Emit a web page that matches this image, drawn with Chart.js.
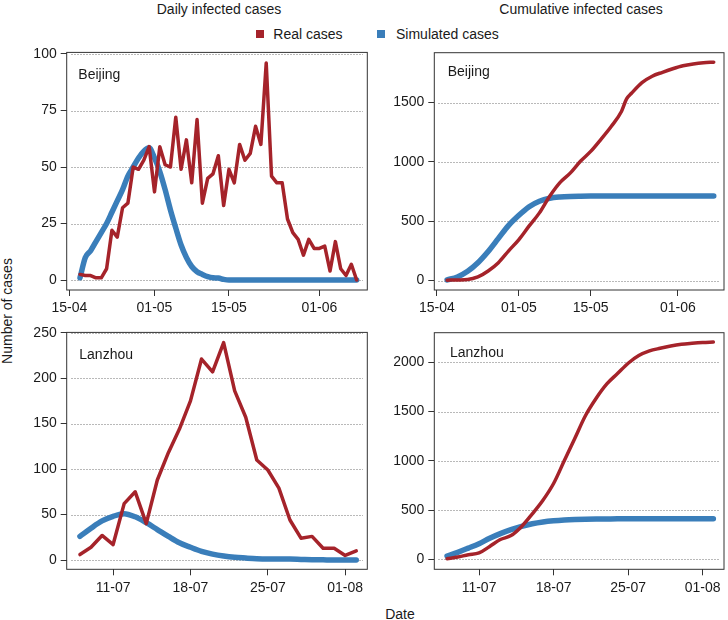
<!DOCTYPE html>
<html>
<head>
<meta charset="utf-8">
<script src="https://cdn.jsdelivr.net/npm/chart.js@4.4.1/dist/chart.umd.min.js"></script>
<style>
  body { margin: 0; background: #fff; }
  #wrap { position: relative; width: 728px; height: 620px; overflow: hidden;
          font-family: "Liberation Sans", Arial, sans-serif; font-size: 14px; color: #1a1a1a; }
  canvas { position: absolute; }
  .txt { position: absolute; line-height: 16px; white-space: nowrap; }
  .key { position: absolute; width: 8px; height: 8px; }
</style>
</head>
<body>
<div id="wrap">
  <div class="txt" style="left:219px; top:0.7px; transform:translateX(-50%)">Daily infected cases</div>
  <div class="txt" style="left:581px; top:0.7px; transform:translateX(-50%)">Cumulative infected cases</div>

  <div class="key" style="left:255.5px; top:29.5px; background:#A5232A"></div>
  <div class="txt" style="left:273.3px; top:25.5px">Real cases</div>
  <div class="key" style="left:376.5px; top:29.5px; background:#3A7EBA"></div>
  <div class="txt" style="left:396px; top:25.5px">Simulated cases</div>

  <div class="txt" style="left:7px; top:311px; transform:translate(-50%,-50%) rotate(-90deg)">Number of cases</div>
  <div class="txt" style="left:400px; top:605.5px; transform:translateX(-50%)">Date</div>

  <canvas id="bjDaily" width="372" height="282" style="left:0; top:40px; width:372px; height:282px"></canvas>
  <canvas id="lzDaily" width="372" height="280" style="left:0; top:320px; width:372px; height:280px"></canvas>
  <canvas id="bjCum" width="356" height="282" style="left:372px; top:40px; width:356px; height:282px"></canvas>
  <canvas id="lzCum" width="356" height="280" style="left:372px; top:320px; width:356px; height:280px"></canvas>
</div>

<script>
// ---- data ----

// Beijing, daily from 17-04 to 08-06
const bjDailyStart = '17-04';
const bjDailyReal = [2.5, 2, 2, 1, 1, 5, 22, 19, 32, 34,
                     50, 49, 53, 59, 39, 59, 51, 50, 72, 49,
                     62, 43, 71, 34, 45, 47, 55, 33, 49, 43,
                     60, 53, 56, 68, 60, 96, 46, 43, 43, 27,
                     21, 18, 11, 18, 14, 14, 15, 4, 17, 5,
                     2, 7, 0];
const bjDailySim = [1, 10, 13, 17, 21, 25, 30, 35, 40, 46,
                    50, 54, 57, 58.5, 54, 48, 40, 31, 23, 15.5,
                    10, 6, 3.7, 2.5, 1.5, 1, 0.9, 0.3, 0, 0,
                    0, 0, 0, 0, 0, 0, 0, 0, 0, 0,
                    0, 0, 0, 0, 0, 0, 0, 0, 0, 0,
                    0, 0, 0];

// Beijing, cumulative (read every couple of days)
const bjCumDates = ['17-04', '19-04', '21-04', '23-04', '25-04', '27-04', '29-04',
                    '01-05', '03-05', '05-05', '07-05', '09-05', '11-05', '13-05',
                    '15-05', '17-05', '19-05', '21-05', '22-05', '23-05', '25-05',
                    '27-05', '29-05', '31-05', '02-06', '04-06', '06-06', '08-06'];
const bjCumReal = [3, 5, 8, 30, 80, 150, 250, 345, 460, 570, 710, 825, 905, 1005,
                   1088, 1190, 1298, 1425, 1530, 1580, 1668, 1722, 1755, 1785, 1810, 1825, 1835, 1840];
const bjCumSim = [5, 30, 78, 150, 245, 355, 465, 550, 622, 668, 693, 704, 709, 711,
                  712, 712, 712, 712, 712, 712, 712, 712, 712, 712, 712, 712, 712, 712];

// Lanzhou, daily from 08-07 to 02-08
const lzStart = '08-07';
const lzDailyReal = [6, 14, 27, 17, 62, 75, 40, 88, 118, 144,
                     175, 221, 207, 239, 186, 157, 110, 99, 79, 44,
                     24, 26, 13, 13, 5, 10];
const lzDailySim = [26, 35, 43, 48, 51, 47.5, 41, 33.5, 26, 19,
                    14, 9.5, 6.5, 4.4, 3, 2.2, 1.5, 1.1, 1, 1,
                    0.7, 0.4, 0.2, 0, 0, 0];
const lzCumReal = [7, 25, 48, 66, 132, 202, 242, 335, 462, 600,
                   770, 1000, 1230, 1460, 1635, 1780, 1885, 1990, 2068, 2115,
                   2142, 2165, 2182, 2192, 2200, 2205];
const lzCumSim = [35, 72, 115, 160, 215, 262, 302, 336, 362, 380,
                  392, 400, 405, 408, 410, 411, 412, 412, 413, 413,
                  413, 413, 413, 413, 413, 413];

// axis ticks
const bjTicks = ['15-04', '01-05', '15-05', '01-06'];
const lzTicks = ['11-07', '18-07', '25-07', '01-08'];
const bjDailyY = [0, 25, 50, 75, 100];
const lzDailyY = [0, 50, 100, 150, 200, 250];
const bjCumY = [0, 500, 1000, 1500];
const lzCumY = [0, 500, 1000, 1500, 2000];

// ---- helpers ----
const RED = '#A5232A';
const BLUE = '#3A7EBA';
const FONT = { family: '"Liberation Sans", Arial, sans-serif', size: 14 };
const MONTH_START = [0, 31, 59, 90, 120, 151, 181, 212, 243, 273, 304, 334];

function dayNum(s) {
    const [d, m] = s.split('-').map(Number);
    return MONTH_START[m - 1] + d;
}

function consecutive(first, n) {
    const start = dayNum(first);
    return Array.from({ length: n }, (_, i) => start + i);
}

function toPoints(xs, ys) {
    return ys.map((y, i) => ({ x: xs[i], y: y }));
}

// dotted horizontal guides, the frame and the city label (one per panel)
function panelDecor(p) {
    return {
        id: 'panelDecor',
        beforeDatasetsDraw(chart) {
            const { ctx, chartArea: a } = chart;
            const yScale = chart.scales.y;
            ctx.save();
            ctx.strokeStyle = '#b9b9b9';
            ctx.lineWidth = 1;
            ctx.setLineDash([2, 1]);
            p.yTicks.forEach(v => {
                const py = Math.round(yScale.getPixelForValue(v)) + 0.5;
                ctx.beginPath();
                ctx.moveTo(Math.round(a.left) + 4, py);
                ctx.lineTo(Math.round(a.right) - 4, py);
                ctx.stroke();
            });
            ctx.restore();
        },
        afterDraw(chart) {
            const { ctx, chartArea: a } = chart;
            ctx.save();
            ctx.strokeStyle = '#333';
            ctx.lineWidth = 1;
            ctx.strokeRect(a.left, a.top, a.right - a.left, a.bottom - a.top);
            ctx.fillStyle = '#1a1a1a';
            ctx.font = '14px "Liberation Sans", Arial, sans-serif';
            ctx.fillText(p.label, a.left + p.labelDx, a.top + p.labelDy);
            ctx.restore();
        }
    };
}

function makePanel(id, p) {
    new Chart(document.getElementById(id), {
        type: 'line',
        data: {
            datasets: [
                {
                    label: 'Real cases',
                    data: toPoints(p.realX, p.real),
                    borderColor: RED,
                    borderWidth: 3.5,
                    pointRadius: 0,
                    borderJoinStyle: 'round',
                    borderCapStyle: 'round',
                    cubicInterpolationMode: p.smoothReal ? 'monotone' : 'default',
                    tension: 0
                },
                {
                    label: 'Simulated cases',
                    data: toPoints(p.simX, p.sim),
                    borderColor: BLUE,
                    borderWidth: 5.5,
                    pointRadius: 0,
                    borderCapStyle: 'round',
                    cubicInterpolationMode: 'monotone'
                }
            ]
        },
        options: {
            responsive: false,
            animation: false,
            devicePixelRatio: 1,
            events: [],
            layout: { padding: { top: p.padTop, right: p.padRight, left: 0, bottom: 0 } },
            plugins: {
                legend: { display: false },
                tooltip: { enabled: false }
            },
            scales: {
                x: {
                    type: 'linear',
                    min: p.xMin,
                    max: p.xMax,
                    afterBuildTicks: ax => { ax.ticks = p.xTicks.map(t => ({ value: dayNum(t) })); },
                    afterFit: ax => { ax.height = p.xHeight; },
                    ticks: {
                        callback: (v, i) => p.xTicks[i],
                        font: FONT, color: '#1a1a1a', padding: 4,
                        autoSkip: false, maxRotation: 0
                    },
                    grid: { drawOnChartArea: false, tickLength: 6, tickColor: '#333', tickWidth: 1 },
                    border: { display: false }
                },
                y: {
                    min: p.yMin,
                    max: p.yMax,
                    afterBuildTicks: ax => { ax.ticks = p.yTicks.map(v => ({ value: v })); },
                    afterFit: ax => { ax.width = p.yWidth; },
                    ticks: { callback: v => String(v), font: FONT, color: '#1a1a1a', padding: 4 },
                    grid: { drawOnChartArea: false, tickLength: 6, tickColor: '#333', tickWidth: 1 },
                    border: { display: false }
                }
            }
        },
        plugins: [panelDecor(p)]
    });
}

const bjDailyX = consecutive(bjDailyStart, bjDailyReal.length);
const bjCumX = bjCumDates.map(dayNum);
const lzX = consecutive(lzStart, lzDailyReal.length);

const bjRange = { xMin: dayNum('15-04') - 0.5, xMax: dayNum('15-04') + 56, xTicks: bjTicks };
const lzRange = { xMin: dayNum(lzStart) - 1.2, xMax: dayNum(lzStart) + 26, xTicks: lzTicks };

makePanel('bjDaily', Object.assign({}, bjRange, {
    realX: bjDailyX, real: bjDailyReal, simX: bjDailyX, sim: bjDailySim,
    yMin: -4.4, yMax: 100.7, yTicks: bjDailyY,
    label: 'Beijing', labelDx: 11.6, labelDy: 26.6,
    padTop: 11.7, padRight: 4.7, yWidth: 66.7, xHeight: 32
}));

makePanel('lzDaily', Object.assign({}, lzRange, {
    realX: lzX, real: lzDailyReal, simX: lzX, sim: lzDailySim,
    yMin: -10.2, yMax: 250.3, yTicks: lzDailyY,
    label: 'Lanzhou', labelDx: 12.6, labelDy: 26.6,
    padTop: 11.7, padRight: 4.7, yWidth: 66.7, xHeight: 30.7
}));

makePanel('bjCum', Object.assign({}, bjRange, {
    realX: bjCumX, real: bjCumReal, simX: bjCumX, sim: bjCumSim, smoothReal: true,
    yMin: -80, yMax: 1920, yTicks: bjCumY,
    label: 'Beijing', labelDx: 13.4, labelDy: 23.5,
    padTop: 12.7, padRight: 4, yWidth: 62.3, xHeight: 32
}));

makePanel('lzCum', Object.assign({}, lzRange, {
    realX: lzX, real: lzCumReal, simX: lzX, sim: lzCumSim, smoothReal: true,
    yMin: -100, yMax: 2300, yTicks: lzCumY,
    label: 'Lanzhou', labelDx: 15.7, labelDy: 24.6,
    padTop: 12.7, padRight: 4, yWidth: 62.3, xHeight: 30.7
}));
</script>
</body>
</html>
